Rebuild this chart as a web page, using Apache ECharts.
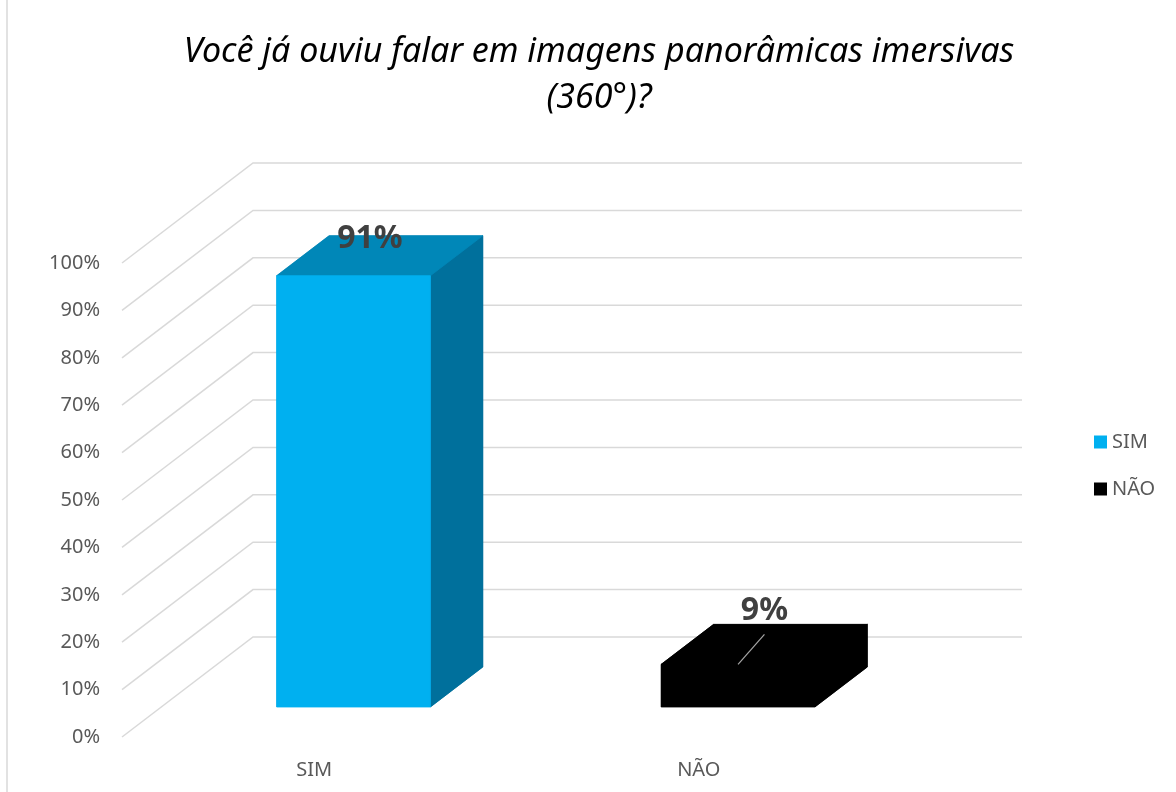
<!DOCTYPE html>
<html>
<head>
<meta charset="utf-8">
<script src="https://cdn.jsdelivr.net/npm/echarts@6/dist/echarts.min.js"></script>
<style>
  html, body { margin: 0; padding: 0; background: #ffffff; }
  #chart { width: 1176px; height: 792px; }
</style>
</head>
<body>
<div id="chart"></div>
<script>
// Survey answers: "Have you heard of immersive panoramic (360°) images?"
const categories = ['SIM', 'NÃO'];
const values = [0.91, 0.09];
const valueLabels = ['91%', '9%'];
const yTicks = [0, 0.1, 0.2, 0.3, 0.4, 0.5, 0.6, 0.7, 0.8, 0.9, 1.0];

const frontColors = ['#00B0F0', '#000000'];
const topColors = ['#0087B8', '#000000'];
const sideColors = ['#00709C', '#000000'];

// Oblique projection of the full floor depth (front plane -> back wall)
const DEPTH_DX = 131;
const DEPTH_DY = -100;
// Bars sit in the middle of the floor depth
const BAR_NEAR = 0.3;
const BAR_FAR = 0.7;
const BAR_WIDTH_RATIO = 0.4;

const FONT = '"Noto Sans", "Open Sans", sans-serif';

const chart = echarts.init(document.getElementById('chart'));

function renderWall(params, api) {
  const cs = params.coordSys;
  const y = api.coord([0, api.value(1)])[1];
  return {
    type: 'polyline',
    shape: {
      points: [
        [cs.x, y],
        [cs.x + DEPTH_DX, y + DEPTH_DY],
        [cs.x + cs.width + DEPTH_DX, y + DEPTH_DY]
      ]
    },
    style: { stroke: '#d9d9d9', lineWidth: 1.5, fill: null },
    silent: true
  };
}

function face(points, color) {
  return {
    type: 'polygon',
    shape: { points: points },
    style: { fill: color, stroke: color, lineWidth: 0.8, lineJoin: 'round' }
  };
}

function makeBarRenderer(ci) {
  return function (params, api) {
    const idx = api.value(0);
    const v = api.value(1);
    const top = api.coord([idx, v]);
    const base = api.coord([idx, 0]);
    const band = api.size([1, 0])[0];
    const w = band * BAR_WIDTH_RATIO;
    const nx = DEPTH_DX * BAR_NEAR, ny = DEPTH_DY * BAR_NEAR;
    const ddx = DEPTH_DX * (BAR_FAR - BAR_NEAR), ddy = DEPTH_DY * (BAR_FAR - BAR_NEAR);
    const x0 = top[0] - w / 2 + nx;
    const x1 = x0 + w;
    const yt = top[1] + ny;
    const yb = base[1] + ny;

    const children = [
      // silhouette underneath, so the faces meet without light seams
      {
        type: 'polygon',
        shape: {
          points: [[x0, yt], [x0 + ddx, yt + ddy], [x1 + ddx, yt + ddy],
                   [x1 + ddx, yb + ddy], [x1, yb], [x0, yb]]
        },
        style: { fill: sideColors[ci] }
      },
      face([[x1, yt], [x1 + ddx, yt + ddy], [x1 + ddx, yb + ddy], [x1, yb]], sideColors[ci]),
      face([[x0, yt], [x1, yt], [x1 + ddx, yt + ddy], [x0 + ddx, yt + ddy]], topColors[ci]),
      face([[x0, yt], [x1, yt], [x1, yb], [x0, yb]], frontColors[ci])
    ];

    // Value label: sits on the top face of tall bars; short bars get it
    // lifted above the bar with a leader line.
    const backMidX = (x0 + x1) / 2 + ddx;
    const backTopY = yt + ddy;
    let lx, ly;
    if (v >= 0.2) {
      lx = backMidX - 36;
      ly = backTopY + 3;
    } else {
      lx = backMidX - 26;
      ly = backTopY - 13;
      children.push({
        type: 'line',
        shape: { x1: (x0 + x1) / 2, y1: yt, x2: lx, y2: ly + 23 },
        style: { stroke: '#a6a6a6', lineWidth: 1.2 }
      });
    }
    children.push({
      type: 'text',
      style: {
        text: valueLabels[ci],
        x: lx,
        y: ly,
        align: 'center',
        verticalAlign: 'middle',
        fill: '#404040',
        font: 'bold 32px ' + FONT
      }
    });
    return { type: 'group', children: children };
  };
}

const barSeries = categories.map(function (name, ci) {
  return {
    name: name,
    type: 'custom',
    clip: false,
    z: 3,
    itemStyle: { color: frontColors[ci] },
    renderItem: makeBarRenderer(ci),
    data: [[ci, values[ci]]]
  };
});

const option = {
  backgroundColor: '#ffffff',
  animation: false,
  title: {
    text: 'Você já ouviu falar em imagens panorâmicas imersivas\n(360°)?',
    left: 594,
    top: 24,
    textAlign: 'center',
    textStyle: {
      fontFamily: FONT,
      fontStyle: 'italic',
      fontWeight: 'normal',
      fontSize: 34,
      lineHeight: 46,
      color: '#000000'
    }
  },
  legend: {
    orient: 'vertical',
    left: 1089,
    top: 427,
    icon: 'rect',
    itemWidth: 13,
    itemHeight: 13,
    itemGap: 27,
    textStyle: { fontFamily: FONT, fontSize: 20, color: '#595959' },
    data: categories
  },
  graphic: [
    {
      type: 'rect',
      shape: { x: 7, y: -5, width: 2000, height: 2000 },
      style: { fill: null, stroke: '#d9d9d9', lineWidth: 1.5 },
      silent: true,
      z: -10
    }
  ],
  grid: { left: 122, right: 285, top: 263, bottom: 55 },
  xAxis: {
    type: 'category',
    data: categories,
    axisLine: { show: false },
    axisTick: { show: false },
    axisLabel: { fontFamily: FONT, fontSize: 20, color: '#595959', margin: 23 }
  },
  yAxis: {
    type: 'value',
    min: 0,
    max: 1,
    interval: 0.1,
    axisLine: { show: false },
    axisTick: { show: false },
    splitLine: { show: false },
    axisLabel: {
      fontFamily: FONT,
      fontSize: 20,
      color: '#595959',
      margin: 22,
      formatter: function (v) { return Math.round(v * 100) + '%'; }
    }
  },
  series: [
    {
      name: 'walls',
      type: 'custom',
      clip: false,
      z: 1,
      silent: true,
      renderItem: renderWall,
      data: yTicks.map(function (t) { return [0, t]; })
    }
  ].concat(barSeries)
};

chart.setOption(option);
</script>
</body>
</html>
